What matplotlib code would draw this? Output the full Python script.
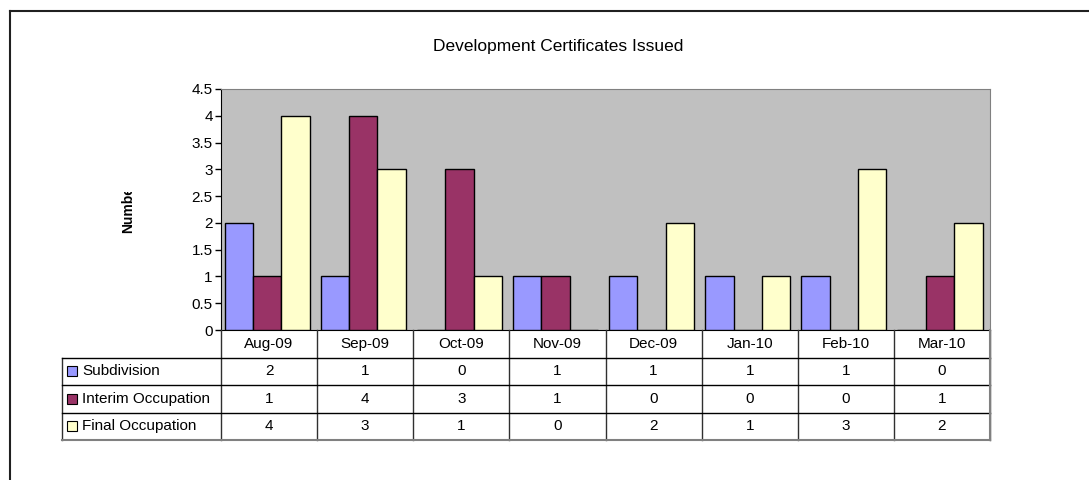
# -*- coding: utf-8 -*-

import numpy as np
import matplotlib
matplotlib.use('Agg')
import matplotlib.pyplot as plt
from matplotlib.transforms import Bbox, TransformedBbox
from matplotlib.ticker import FuncFormatter

plt.rcParams['font.family'] = ['Liberation Sans', 'DejaVu Sans']

months = ['Aug-09', 'Sep-09', 'Oct-09', 'Nov-09', 'Dec-09', 'Jan-10', 'Feb-10', 'Mar-10']
series = ['Subdivision', 'Interim Occupation', 'Final Occupation']
subdivision = [2, 1, 0, 1, 1, 1, 1, 0]
interim = [1, 4, 3, 1, 0, 0, 0, 1]
final = [4, 3, 1, 0, 2, 1, 3, 2]
colors = ['#9999FF', '#993366', '#FFFFCC']

W, H = 1089, 480
fig = plt.figure(figsize=(W / 100, H / 100), dpi=100)

# plot area (pixel positions from the reference)
L, R, T, B = 221, 990, 89, 330
ax = fig.add_axes([L / W, 1 - B / H, (R - L) / W, (B - T) / H])
ax.set_facecolor('#C0C0C0')

x = np.arange(len(months))
w = 0.295
data = [subdivision, interim, final]
for k, vals in enumerate(data):
    ax.bar(x + (k - 1) * w - 0.02, vals, width=w, color=colors[k],
           edgecolor='black', linewidth=1, zorder=3)

ax.set_xlim(-0.5, len(months) - 0.5)
ax.set_ylim(0, 4.5)
ax.set_yticks(np.arange(0, 4.51, 0.5))
ax.yaxis.set_major_formatter(FuncFormatter(lambda v, p: '{:g}'.format(v)))
ax.tick_params(axis='y', direction='out', length=4, width=1, labelsize=11, pad=2)
ax.set_xticks([])
for s in ['top', 'right']:
    ax.spines[s].set_color('#808080')
ax.spines['left'].set_color('black')
ax.spines['bottom'].set_color('black')

# title and y label (label is cut off at the top like in the original)
fig.text(558 / W, 1 - 47 / H, 'Development Certificates Issued', ha='center', va='center', fontsize=12.5)
yl = fig.text(128 / W, 1 - 207 / H, 'Number', rotation=90, ha='center', va='center',
              fontsize=10, fontweight='bold')
yl.set_clip_box(TransformedBbox(Bbox([[0, 0], [1, 1 - 192 / H]]), fig.transFigure))
yl.set_clip_on(True)

# data table under the plot
TL, TB = 62, 440
ppu = (R - L) / len(months)
x0 = -0.5 - (L - TL) / ppu
xr = len(months) - 0.5
at = fig.add_axes([TL / W, 1 - TB / H, (R - TL) / W, (TB - B) / H])
at.set_xlim(x0, xr)
at.set_ylim(4, 0)
at.axis('off')

for i in range(len(months) + 1):
    at.plot([i - 0.5, i - 0.5], [0, 4], color='#303030', lw=1, clip_on=False)
at.plot([x0, x0], [1, 4], color='#303030', lw=1, clip_on=False)
for r in [1, 2, 3]:
    at.plot([x0, xr], [r, r], color='black', lw=1, clip_on=False)
at.plot([x0, xr], [4, 4], color='#808080', lw=1.5, clip_on=False)
at.plot([xr, xr], [0, 4], color='#808080', lw=1.5, clip_on=False)

for i, m in enumerate(months):
    at.text(i, 0.5, m, ha='center', va='center', fontsize=11)
sq_x = x0 + 10.5 / ppu
for k, name in enumerate(series):
    at.plot([sq_x], [k + 1.5], marker='s', markersize=6.5, mfc=colors[k], mec='black',
            mew=0.8, clip_on=False)
    at.text(x0 + 20 / ppu, k + 1.5, name, ha='left', va='center', fontsize=11)
    for i, v in enumerate(data[k]):
        at.text(i, k + 1.5, str(v), ha='center', va='center', fontsize=11)

# outer chart frame (only top and left visible)
fig.add_artist(plt.Line2D([10 / W, 1], [1 - 11 / H, 1 - 11 / H], color='#202020', lw=1.5))
fig.add_artist(plt.Line2D([10 / W, 10 / W], [0, 1 - 11 / H], color='#202020', lw=1.5))

fig.savefig('out.png', dpi=100)
